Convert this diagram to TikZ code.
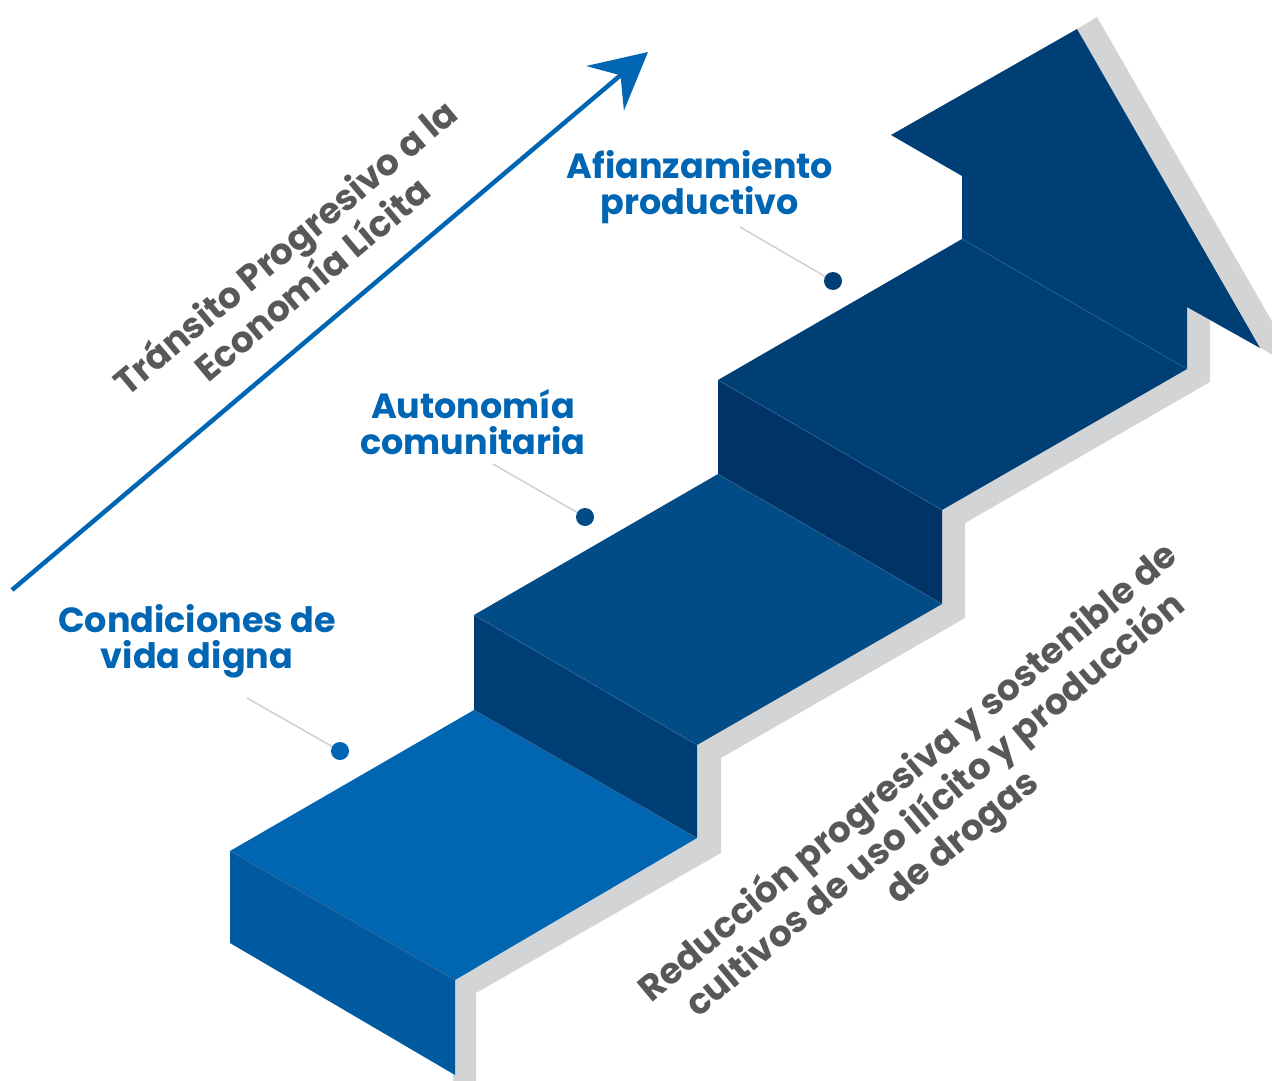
\documentclass[tikz,border=0pt]{standalone}
\usepackage{fontspec}
\setmainfont{Poppins}
\usetikzlibrary{arrows.meta}
\definecolor{stepA}{HTML}{0066B1}
\definecolor{stepAfront}{HTML}{005A9F}
\definecolor{riserB}{HTML}{003E76}
\definecolor{stepB}{HTML}{014B86}
\definecolor{riserC}{HTML}{003466}
\definecolor{stepC}{HTML}{003F76}
\definecolor{shadowgray}{HTML}{D3D4D6}
\definecolor{seam}{HTML}{3A6B9C}
\definecolor{txtgray}{HTML}{58585A}
\definecolor{txtblue}{HTML}{0066B3}
\definecolor{leader}{HTML}{D0D0D0}
\begin{document}
\begin{tikzpicture}[x=1pt,y=-1pt,
  seamline/.style={draw=seam,line width=0.5pt},
  bluelabel/.style={text=txtblue,font=\fontsize{35}{36}\selectfont\bfseries,align=center,inner sep=0pt},
  graylabel/.style={text=txtgray,font=\fontsize{36}{42}\selectfont\bfseries,align=center,inner sep=0pt,rotate=40},
  leaderline/.style={draw=leader,line width=1.5pt},
  dotA/.style={circle,fill=stepA,minimum size=18pt,inner sep=0pt},
  dotB/.style={circle,fill=stepB,minimum size=18pt,inner sep=0pt},
  dotC/.style={circle,fill=stepC,minimum size=18pt,inner sep=0pt}]
\useasboundingbox (0,0) rectangle (1272,1081);
\clip (0,0) rectangle (1272,1081);
% shadow
\fill[shadowgray] (453,1090) -- (476,1090) -- (476,993) -- (721,853) -- (721,758) -- (965,618) -- (965,523) -- (1210,382) -- (1210,320) -- (1300,370) -- (1097,17) -- (1077,29) -- (942,510) -- (697,745) -- (453,980) -- cycle;
% step 1
\fill[stepA] (230,851) -- (474,710) -- (697,838) -- (455,980) -- cycle;
\fill[stepAfront] (230,851) -- (455,980) -- (455,1075) -- (230,943) -- cycle;
% riser 2 and step 2
\fill[riserB] (474,615) -- (697,745) -- (697,838) -- (474,710) -- cycle;
\fill[stepB] (474,615) -- (718,474) -- (942,604) -- (697,745) -- cycle;
% riser 3 and step 3 with arrow
\fill[riserC] (718,380) -- (942,510) -- (942,604) -- (718,474) -- cycle;
\fill[stepC] (718,380) -- (962,239) -- (962,176) -- (891,135) -- (1077,29) -- (1260,348) -- (1187,307) -- (1187,369) -- (942,510) -- cycle;
% seams
\draw[seamline] (230,851) -- (455,980);
\draw[seamline] (474,710) -- (697,838);
\draw[seamline] (474,615) -- (697,745);
\draw[seamline] (718,474) -- (942,604);
\draw[seamline] (718,380) -- (942,510);
\draw[seamline] (962,239) -- (1187,369);
% progress arrow
\coordinate (arrS) at (12,590);
\coordinate (arrE) at (648,52);
\draw[txtblue,line width=4.5pt,-{Stealth[length=56pt,width=58pt,inset=20pt]}] (arrS) -- (arrE);
% labels
\node[bluelabel] (lab1) at (197,641) {Condiciones de\\vida digna};
\node[bluelabel] (lab2) at (473,422) {Autonomía\\comunitaria};
\node[bluelabel] (lab3) at (700,187) {Afianzamiento\\productivo};
\node[dotA] (dot1) at (340,751) {};
\node[dotB] (dot2) at (585,517) {};
\node[dotC] (dot3) at (833,281) {};
\coordinate (ld1) at (247,698);
\coordinate (ld2) at (493,464);
\coordinate (ld3) at (740,227);
\draw[leaderline] (ld1) -- (dot1);
\draw[leaderline] (ld2) -- (dot2);
\draw[leaderline] (ld3) -- (dot3);
\node[graylabel] (tr) at (298,262) {Tránsito Progresivo a la\\Economía Lícita};
\node[graylabel] (red) at (936,806) {Reducción progresiva y sostenible de\\cultivos de uso ilícito y producción\\de drogas};
\end{tikzpicture}
\end{document}
